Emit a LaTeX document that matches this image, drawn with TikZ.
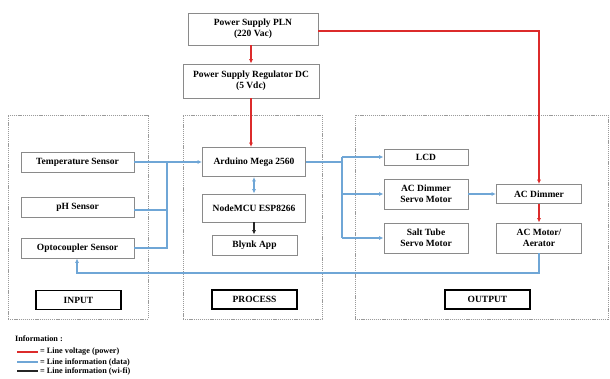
\documentclass[tikz,border=0pt]{standalone}
\usepackage{fontspec}
\setmainfont{Liberation Serif}
\usetikzlibrary{arrows.meta,calc}
\definecolor{pwr}{HTML}{DC2B2B}
\definecolor{dat}{HTML}{6FA6D6}
\definecolor{bord}{HTML}{8A8A8A}
\definecolor{grpc}{HTML}{9A9A9A}
\begin{document}
\begin{tikzpicture}[x=1pt,y=-1pt,
  blk/.style={draw=bord, line width=0.9pt, fill=white, align=center,
    font=\fontsize{9.5}{11}\selectfont\bfseries, inner sep=0pt},
  lbl/.style={draw=black, line width=1.3pt, fill=white, align=center,
    font=\fontsize{9.5}{11}\selectfont\bfseries, inner sep=0pt,
    minimum width=85pt, minimum height=19pt},
  grp/.style={draw=grpc, line width=0.6pt, dash pattern=on 1.2pt off 0.9pt,
    inner sep=0pt},
  pw/.style={draw=pwr, line width=1.7pt},
  dt/.style={draw=dat, line width=1.7pt},
  wf/.style={draw=black!85, line width=1.5pt},
  tip/.style={-{Latex[length=4.5pt,width=4pt]}},
  dtip/.style={{Latex[length=4.5pt,width=4pt]}-{Latex[length=4.5pt,width=4pt]}},
  leg/.style={font=\fontsize{8.2}{9.5}\selectfont\bfseries, anchor=west, inner sep=0pt}
]
\useasboundingbox (0,0) rectangle (610,379);

% group containers
\node[grp, minimum width=140pt, minimum height=204pt] (gin) at (78,217) {};
\node[grp, minimum width=139pt, minimum height=204pt] (gproc) at (252.5,217) {};
\node[grp, minimum width=253pt, minimum height=204pt] (gout) at (481.5,217) {};

% power
\node[blk, minimum width=130pt, minimum height=32pt] (pln) at (253,29) {Power Supply PLN\\(220 Vac)};
\node[blk, minimum width=136pt, minimum height=34pt] (reg) at (251,81) {Power Supply Regulator DC\\(5 Vdc)};

% input
\node[blk, minimum width=113pt, minimum height=20pt] (temp) at (77.5,162) {Temperature Sensor};
\node[blk, minimum width=113pt, minimum height=20pt] (ph) at (77.5,207) {pH Sensor};
\node[blk, minimum width=113pt, minimum height=20pt] (opto) at (77.5,248) {Optocoupler Sensor};
\node[lbl] (inp) at (78.5,300) {INPUT};

% process
\node[blk, minimum width=103pt, minimum height=29pt] (ard) at (254,162) {Arduino Mega 2560};
\node[blk, minimum width=103pt, minimum height=28pt] (nmcu) at (254,208) {NodeMCU ESP8266};
\node[blk, minimum width=85pt, minimum height=20pt] (blynk) at (254.5,245) {Blynk App};
\node[lbl] (proc) at (254.5,299.5) {PROCESS};

% output
\node[blk, minimum width=84pt, minimum height=16pt] (lcd) at (426,157) {LCD};
\node[blk, minimum width=84pt, minimum height=30pt] (acs) at (426,194) {AC Dimmer\\Servo Motor};
\node[blk, minimum width=84pt, minimum height=30pt] (salt) at (426,238) {Salt Tube\\Servo Motor};
\node[blk, minimum width=85pt, minimum height=19pt] (acd) at (539,194) {AC Dimmer};
\node[blk, minimum width=85pt, minimum height=30pt] (mot) at (539,238) {AC Motor/\\Aerator};
\node[lbl] (outp) at (487.5,299.5) {OUTPUT};

% power connectors
\draw[pw,tip] (pln.south -| reg.north) -- (reg.north);
\draw[pw,tip] (reg.south) -- (reg.south |- ard.north);
\draw[pw,tip] ($(pln.east)+(0,2)$) -| (acd.north);
\draw[pw,tip] (acd.south) -- (mot.north);

% data inputs
\coordinate (jin) at (167,162);
\draw[dt,tip] (temp.east) -- (temp.east -| ard.west);
\draw[dt] ($(ph.east)+(0,3)$) -- ($(ph.east -| jin)+(0,3)$);
\draw[dt] (opto.east) -| (jin);

% arduino <-> nodemcu, nodemcu -> blynk
\draw[dt,dtip] (ard.south) -- (nmcu.north);
\draw[wf,tip] (nmcu.south) -- (nmcu.south |- blynk.north);

% data outputs
\coordinate (jout) at (342,157);
\draw[dt] (ard.east) -- (ard.east -| jout);
\draw[dt] (jout) -- (jout |- salt.west);
\draw[dt,tip] (jout) -- (lcd.west);
\draw[dt,tip] (jout |- acs.west) -- (acs.west);
\draw[dt,tip] (jout |- salt.west) -- (salt.west);
\draw[dt,tip] (acs.east) -- (acd.west);

% feedback
\coordinate (fbl) at (77,273);
\draw[dt,tip] (mot.south) |- (fbl) -- (fbl |- opto.south);

% legend
\node[leg] (info) at (15,339) {Information :};
\coordinate (l1a) at (17,352); \coordinate (l1b) at (38,352);
\coordinate (l2a) at (17,362); \coordinate (l2b) at (38,362);
\coordinate (l3a) at (17,371); \coordinate (l3b) at (38,371);
\draw[pw] (l1a) -- (l1b);
\draw[dt] (l2a) -- (l2b);
\draw[wf] (l3a) -- (l3b);
\node[leg] (t1) at (40,352) {= Line voltage (power)};
\node[leg] (t2) at (40,362) {= Line information (data)};
\node[leg] (t3) at (40,371) {= Line information (wi-fi)};
\end{tikzpicture}
\end{document}
